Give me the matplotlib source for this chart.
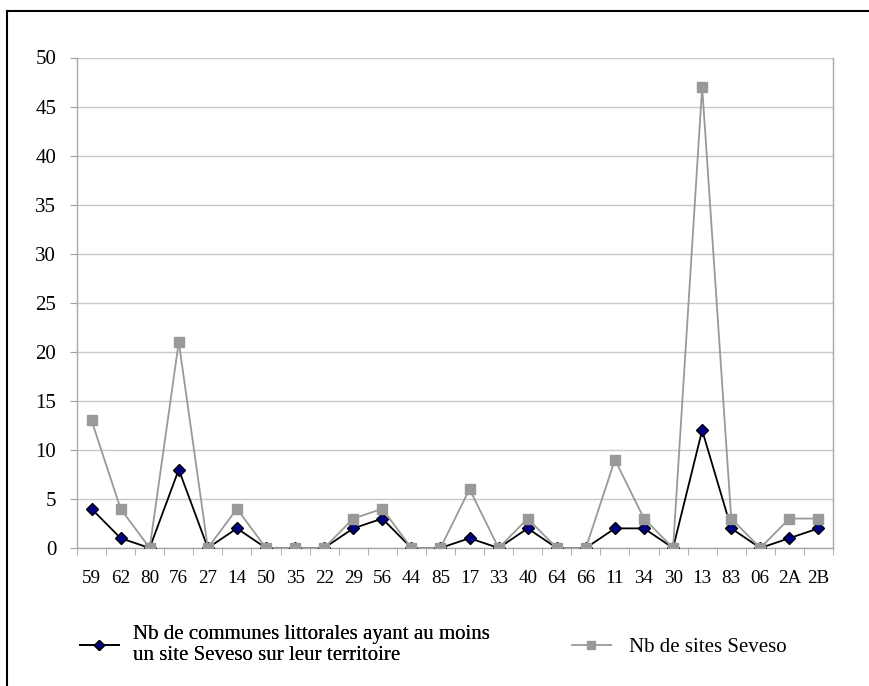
import matplotlib
matplotlib.use("Agg")
import matplotlib.pyplot as plt
from matplotlib.lines import Line2D
import numpy as np

categories = ["59", "62", "80", "76", "27", "14", "50", "35", "22", "29", "56", "44", "85",
              "17", "33", "40", "64", "66", "11", "34", "30", "13", "83", "06", "2A", "2B"]
communes = [4, 1, 0, 8, 0, 2, 0, 0, 0, 2, 3, 0, 0, 1, 0, 2, 0, 0, 2, 2, 0, 12, 2, 0, 1, 2]
sites = [13, 4, 0, 21, 0, 4, 0, 0, 0, 3, 4, 0, 0, 6, 0, 3, 0, 0, 9, 3, 0, 47, 3, 0, 3, 3]
label_communes = "Nb de communes littorales ayant au moins\nun site Seveso sur leur territoire"
label_sites = "Nb de sites Seveso"
yticks = list(range(0, 51, 5))

plt.rcParams['font.family'] = ['Liberation Serif', 'DejaVu Serif']
XFS = 13.8
YFS = 15.0
LFS = 15.0

fig = plt.figure(figsize=(8.7, 6.86), dpi=100)
ax = fig.add_axes([77/870, 1-548/686, (833-77)/870, (548-57.5)/686])

x = np.arange(len(categories))
l1, = ax.plot(x, communes, color='black', lw=1.3, marker='D', markersize=6.5,
              markerfacecolor='#000080', markeredgecolor='black', markeredgewidth=1.0, zorder=3)
l2, = ax.plot(x, sites, color='#999999', lw=1.3, marker='s', markersize=6.5,
              markerfacecolor='#999999', markeredgecolor='#999999', zorder=4)

ax.set_xlim(-0.5, len(categories) - 0.5)
ax.set_ylim(0, 50)
ax.set_yticks(yticks)
ax.set_yticklabels([str(v) for v in yticks], fontsize=YFS)
ax.set_xticks(x)
ax.set_xticklabels(categories, fontsize=XFS)
ax.set_xticks(np.arange(len(categories) + 1) - 0.5, minor=True)
ax.tick_params(axis='x', which='major', length=0, pad=16)
ax.tick_params(axis='x', which='minor', length=5, color='#a0a0a0', direction='out')
ax.tick_params(axis='y', which='major', length=5, color='#a0a0a0', pad=10)

ax.yaxis.grid(True, color='#c8c8c8', lw=1.0)
ax.set_axisbelow(True)
ax.spines['top'].set_visible(False)
for s in ['left', 'bottom', 'right']:
    ax.spines[s].set_color('#a8a8a8')
    ax.spines[s].set_linewidth(1.0)

leg1 = fig.legend(handles=[l1], labels=[label_communes], loc='center left',
                  bbox_to_anchor=(80/870, 1-645/686), frameon=False, fontsize=LFS,
                  handlelength=1.85, handletextpad=0.7, borderpad=0, borderaxespad=0)
leg2 = fig.legend(handles=[l2], labels=[label_sites], loc='center left',
                  bbox_to_anchor=(572/870, 1-647/686), frameon=False, fontsize=LFS,
                  handlelength=1.85, handletextpad=0.9, borderpad=0, borderaxespad=0)
fig.add_artist(leg1)
for leg in (leg1, leg2):
    for t in leg.get_texts():
        t.set_linespacing(1.15)
    for h in leg.legend_handles:
        h.set_markersize(5.5)

fig.add_artist(Line2D([7/870, 7/870], [0, 1-11/686], color='black', lw=1.5, transform=fig.transFigure))
fig.add_artist(Line2D([7/870, 1], [1-11/686, 1-11/686], color='black', lw=1.5, transform=fig.transFigure))

fig.savefig("out.png", dpi=100)
